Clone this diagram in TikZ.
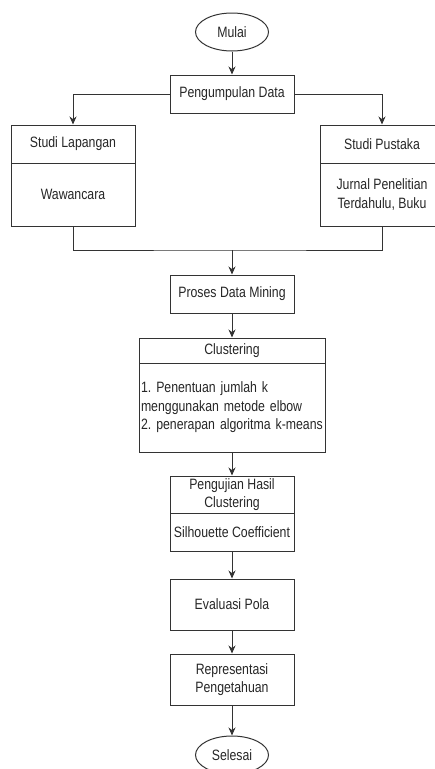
\documentclass[tikz,border=0pt]{standalone}
\usepackage{fontspec}
\setmainfont[FakeStretch=0.82]{Liberation Sans}
\usetikzlibrary{shapes.geometric,arrows.meta}
\frenchspacing
\begin{document}
\begin{tikzpicture}[x=1pt, y=-1pt,
		every node/.style={font=\fontsize{15}{18.5}\selectfont, text=black!85},
		kotak/.style={draw=black!80, line width=1pt, minimum width=124pt, inner sep=0pt, align=center},
		oval/.style={draw=black!80, line width=1pt, ellipse, minimum width=73pt, minimum height=38pt, inner sep=0pt},
		garis/.style={line width=1pt, draw=black!80},
		panah/.style={garis, -{Stealth[length=8pt,width=7pt]}}]
		\useasboundingbox (0,0) rectangle (435,769);
		
		\node [oval] (mulai) at (232, 32) {Mulai};
		\node [kotak, minimum height=38pt] (kumpul) at (232, 94) {Pengumpulan Data};
		
		\node [kotak, minimum height=38pt] (lapHead) at (73, 144) {Studi Lapangan};
		\node [kotak, minimum height=63pt] (lapBody) at (73, 194.5) {Wawancara};
		\node [kotak, minimum height=38pt] (pusHead) at (382, 144) {Studi Pustaka};
		\node [kotak, minimum height=63pt] (pusBody) at (382, 194.5) {Jurnal Penelitian\\Terdahulu, Buku};
		
		\coordinate (gabung) at (232, 250);
		\node [kotak, minimum height=38pt] (proses) at (232, 294) {Proses Data Mining};
		
		\node [kotak, minimum width=186pt, minimum height=25pt] (clusHead) at (232, 350.5) {Clustering};
		\node [kotak, minimum width=186pt, minimum height=89pt, text width=182pt, inner xsep=2pt, align=left] (clusBody) at (232, 407.5)
			{1. Penentuan jumlah k\\menggunakan metode elbow\\2. penerapan algoritma k-means};
		
		\node [kotak, minimum height=37pt] (ujiHead) at (232, 494.5) {Pengujian Hasil\\Clustering};
		\node [kotak, minimum height=38pt] (ujiBody) at (232, 532) {Silhouette Coefficient};
		\node [kotak, minimum height=51pt] (evaluasi) at (232, 604.5) {Evaluasi Pola};
		\node [kotak, minimum height=51pt] (repr) at (232, 679.5) {Representasi\\Pengetahuan};
		\node [oval] (selesai) at (232, 755) {Selesai};
		
		\draw [panah] (mulai) -- (kumpul);
		\draw [panah] (kumpul.west) -| (lapHead.north);
		\draw [panah] (kumpul.east) -| (pusHead.north);
		\draw [garis] (lapBody.south) |- (gabung) -| (pusBody.south);
		\draw [panah] (gabung) -- (proses);
		\draw [panah] (proses) -- (clusHead);
		\draw [panah] (clusBody) -- (ujiHead);
		\draw [panah] (ujiBody) -- (evaluasi);
		\draw [panah] (evaluasi) -- (repr);
		\draw [panah] (repr) -- (selesai);
		
\end{tikzpicture}
\end{document}
